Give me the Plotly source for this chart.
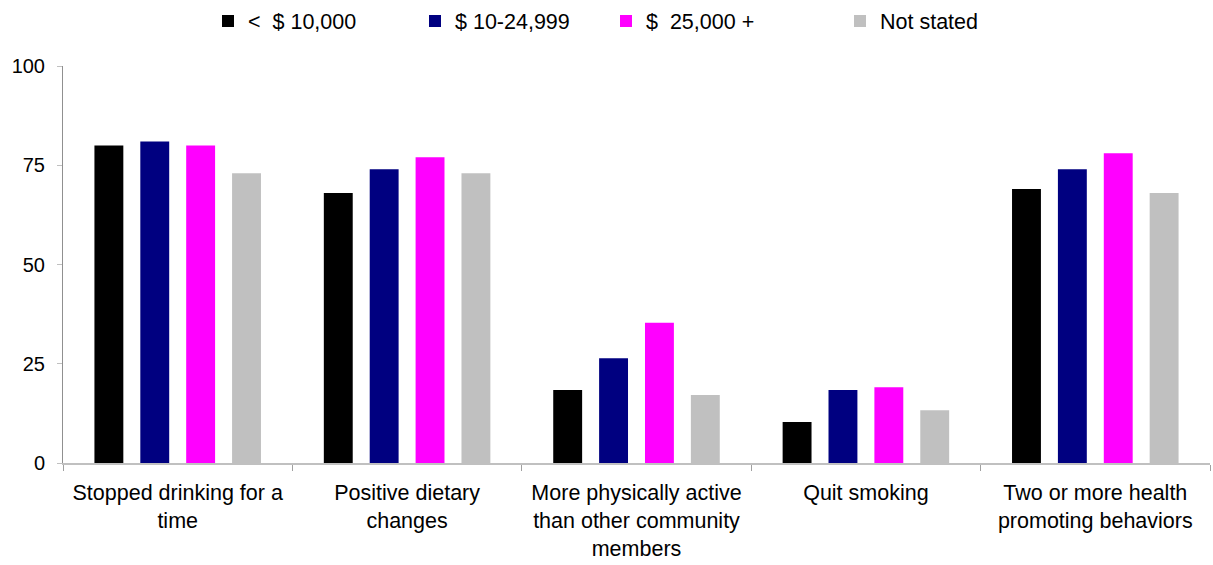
import plotly.graph_objects as go

categories = [
    "Stopped drinking for a<br>time",
    "Positive dietary<br>changes",
    "More physically active<br>than other community<br>members",
    "Quit smoking",
    "Two or more health<br>promoting behaviors",
]
series_names = ["<  $ 10,000", "$ 10-24,999", "$  25,000 +", "Not stated"]
series_values = [
    [80, 68, 18.4, 10.3, 69],
    [81, 74, 26.4, 18.4, 74],
    [80, 77, 35.3, 19.1, 78],
    [73, 73, 17.1, 13.3, 68],
]
colors = ["#000000", "#000080", "#FF00FF", "#C0C0C0"]
y_ticks = [0, 25, 50, 75, 100]

W, H = 1213, 565
ML, MR, MT, MB = 63, 3, 66, 102
plot_w = W - ML - MR
plot_h = H - MT - MB

# legend text left positions (px) in the reference
legend_text_px = [248, 455, 646, 880]

font = "Liberation Sans, Arial, sans-serif"
fig = go.Figure()
legend_keys = ["legend", "legend2", "legend3", "legend4"]
for i, (name, vals, col) in enumerate(zip(series_names, series_values, colors)):
    fig.add_trace(go.Bar(
        x=categories, y=vals, name=name,
        marker=dict(color=col, line=dict(width=0)),
        legend=legend_keys[i],
    ))

layout_legends = {}
for i, key in enumerate(legend_keys):
    left_px = legend_text_px[i] - 40
    layout_legends[key] = dict(
        x=(left_px - ML) / plot_w, xanchor="left",
        y=1 + (MT - 21) / plot_h, yanchor="middle",
        orientation="h", bgcolor="rgba(0,0,0,0)", borderwidth=0,
        font=dict(family=font, size=21.5, color="#000000"),
        itemclick=False, itemdoubleclick=False,
    )

fig.update_layout(
    width=W, height=H,
    margin=dict(l=ML, r=MR, t=MT, b=MB, pad=0, autoexpand=False),
    paper_bgcolor="white", plot_bgcolor="white",
    barmode="group", bargap=0.2, bargroupgap=0.37,
    font=dict(family=font, size=20, color="#000000"),
    showlegend=True,
    **layout_legends,
)
fig.update_xaxes(
    showline=True, linecolor="#C0C0C0", linewidth=2,
    ticks="outside", tickson="boundaries", ticklen=6, tickcolor="#A0A0A0",
    tickfont=dict(family=font, size=21.5, color="#000000"),
    ticklabelstandoff=9,
    showgrid=False, zeroline=False,
)
fig.update_yaxes(
    range=[0, 100], tickvals=y_ticks, ticktext=[str(v) for v in y_ticks],
    showline=True, linecolor="#909090", linewidth=1,
    ticks="outside", ticklen=5, tickcolor="#C0C0C0",
    tickfont=dict(family=font, size=20, color="#000000"),
    ticklabelstandoff=8,
    showgrid=False, zeroline=False,
)

fig.write_html("out.html")
